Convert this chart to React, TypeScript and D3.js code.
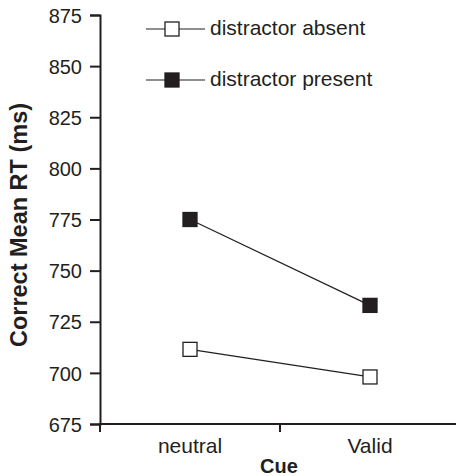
import React, { useEffect, useRef } from "react";
import * as d3 from "d3";

const cues = ["neutral", "Valid"];
const absentRT = [711.5, 698];
const presentRT = [775, 733];
const yTicks = [675, 700, 725, 750, 775, 800, 825, 850, 875];
const seriesNames = ["distractor absent", "distractor present"];

const W = 456;
const H = 476;
const ink = "#231f20";
const font = "Arial, 'Liberation Sans', sans-serif";

function App() {
    const ref = useRef<SVGSVGElement>(null);

    useEffect(() => {
        const svg = d3.select(ref.current);
        svg.selectAll("*").remove();

        const x = d3.scaleBand<string>().domain(cues).range([100, 460]);
        const y = d3.scaleLinear().domain([675, 875]).range([424, 15]);
        const cx = (c: string) => (x(c) as number) + x.bandwidth() / 2;

        // y axis
        const yAxis = svg.append("g")
            .attr("transform", "translate(100,0)")
            .call(d3.axisLeft(y).tickValues(yTicks).tickSize(10).tickPadding(8).tickFormat(d3.format("d")));
        yAxis.select(".domain").attr("stroke", ink).attr("stroke-width", 2);
        yAxis.selectAll(".tick line").attr("stroke", ink).attr("stroke-width", 2);
        yAxis.selectAll(".tick text")
            .attr("fill", ink)
            .attr("dy", "0.36em")
            .style("font-family", font)
            .style("font-size", "20px");

        // x axis
        const xAxisG = svg.append("g").attr("transform", "translate(0,424)");
        xAxisG.append("line")
            .attr("x1", 99).attr("x2", 460)
            .attr("stroke", ink).attr("stroke-width", 2);
        const bounds = [100, ...cues.map(c => (x(c) as number) + x.bandwidth())];
        xAxisG.selectAll("line.t")
            .data(bounds)
            .join("line")
            .attr("class", "t")
            .attr("x1", d => d).attr("x2", d => d)
            .attr("y1", 0).attr("y2", 8)
            .attr("stroke", ink).attr("stroke-width", 2);
        xAxisG.selectAll("text")
            .data(cues)
            .join("text")
            .attr("x", d => cx(d))
            .attr("y", 29)
            .attr("text-anchor", "middle")
            .attr("fill", ink)
            .style("font-family", font)
            .style("font-size", "21px")
            .text(d => d);

        // axis titles
        svg.append("text")
            .attr("x", 279).attr("y", 473)
            .attr("text-anchor", "middle")
            .attr("fill", ink)
            .style("font-family", font)
            .style("font-size", "20px")
            .style("font-weight", "bold")
            .text("Cue");
        svg.append("text")
            .attr("transform", "translate(27,225) rotate(-90)")
            .attr("text-anchor", "middle")
            .attr("fill", ink)
            .style("font-family", font)
            .style("font-size", "23.5px")
            .style("font-weight", "bold")
            .text("Correct Mean RT (ms)");

        const line = d3.line<number>()
            .x((_, i) => cx(cues[i]))
            .y(d => y(d));

        const series = [
            { name: seriesNames[0], values: absentRT, fill: "#fff" },
            { name: seriesNames[1], values: presentRT, fill: ink },
        ];

        const s = 14;
        series.forEach(sr => {
            svg.append("path")
                .attr("d", line(sr.values))
                .attr("fill", "none")
                .attr("stroke", ink)
                .attr("stroke-width", 1.2);
            svg.selectAll(null)
                .data(sr.values)
                .join("rect")
                .attr("x", (_, i) => cx(cues[i]) - s / 2)
                .attr("y", d => y(d) - s / 2)
                .attr("width", s).attr("height", s)
                .attr("fill", sr.fill)
                .attr("stroke", ink)
                .attr("stroke-width", 1.3);
        });

        // legend
        const leg = svg.append("g");
        series.forEach((sr, i) => {
            const ly = 29 + i * 51;
            leg.append("line")
                .attr("x1", 146).attr("x2", 205)
                .attr("y1", ly).attr("y2", ly)
                .attr("stroke", ink).attr("stroke-width", 1.2);
            leg.append("rect")
                .attr("x", 172 - s / 2).attr("y", ly - s / 2)
                .attr("width", s).attr("height", s)
                .attr("fill", sr.fill)
                .attr("stroke", ink)
                .attr("stroke-width", 1.3);
            leg.append("text")
                .attr("x", 210).attr("y", ly)
                .attr("dy", "0.3em")
                .attr("fill", ink)
                .style("font-family", font)
                .style("font-size", "21px")
                .text(sr.name);
        });
    }, []);

    return (
        <svg ref={ref} width={W} height={H} style={{ position: "absolute", left: 0, top: 0 }}></svg>
    );
}

export default App;
